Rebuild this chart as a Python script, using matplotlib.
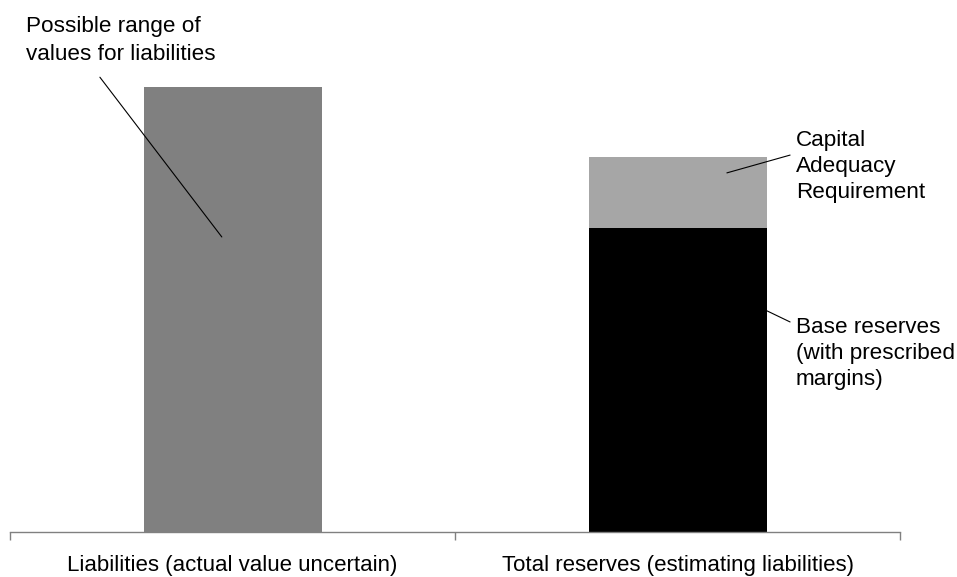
import numpy as np
import matplotlib.pyplot as plt
from matplotlib.ticker import FixedLocator

plt.rcParams['font.family'] = ['Liberation Sans', 'DejaVu Sans']

# categories and values (liabilities scaled to 100)
categories = ['Liabilities (actual value uncertain)',
              'Total reserves (estimating liabilities)']
liabilities = [100.0, 0.0]
base_reserves = [0.0, 68.3]
capital_req = [0.0, 16.0]

fig = plt.figure(figsize=(9.57, 5.77), dpi=100)
ax = fig.add_axes([10/957, 45/577, 890/957, 489.5/577])

x = np.arange(len(categories))
w = 0.4
ax.bar(x[0], liabilities[0], width=w, color='#808080')
ax.bar(x[1], base_reserves[1], width=w, color='#000000')
ax.bar(x[1], capital_req[1], width=w, bottom=base_reserves[1], color='#a6a6a6')

ax.set_xlim(-0.5, 1.5)
ax.set_ylim(0, 110)

for s in ['left', 'right', 'top']:
    ax.spines[s].set_visible(False)
ax.spines['bottom'].set_color('#808080')
ax.spines['bottom'].set_linewidth(1)
ax.set_yticks([])

# boundaries as major ticks, labels on minor ticks at category centres
ax.xaxis.set_major_locator(FixedLocator([-0.5, 0.5, 1.5]))
ax.xaxis.set_major_formatter(plt.NullFormatter())
ax.xaxis.set_minor_locator(FixedLocator(x))
ax.set_xticklabels(categories, minor=True)
ax.tick_params(axis='x', which='major', length=6, width=1, color='#808080', direction='out')
ax.tick_params(axis='x', which='minor', length=0, pad=16.5, labelsize=16.0)

fs = 16.2
line = dict(arrowstyle='-', lw=0.8, color='black', shrinkA=0, shrinkB=0)

ax.annotate('', xy=(-0.024, 66.3), xytext=(-0.298, 102.2),
            arrowprops=line, annotation_clip=False)
ax.text(-0.464, 116.0, 'Possible range of\nvalues for liabilities', fontsize=fs,
        ha='left', va='top', linespacing=1.42, clip_on=False)

ax.annotate('', xy=(1.111, 80.7), xytext=(1.253, 84.7),
            arrowprops=line, annotation_clip=False)
ax.text(1.266, 90.4, 'Capital\nAdequacy\nRequirement', fontsize=fs,
        ha='left', va='top', linespacing=1.33)

ax.annotate('', xy=(1.201, 49.7), xytext=(1.253, 47.2),
            arrowprops=line, annotation_clip=False)
ax.text(1.266, 48.4, 'Base reserves\n(with prescribed\nmargins)', fontsize=fs,
        ha='left', va='top', linespacing=1.33)

plt.savefig('out.png', dpi=100)
